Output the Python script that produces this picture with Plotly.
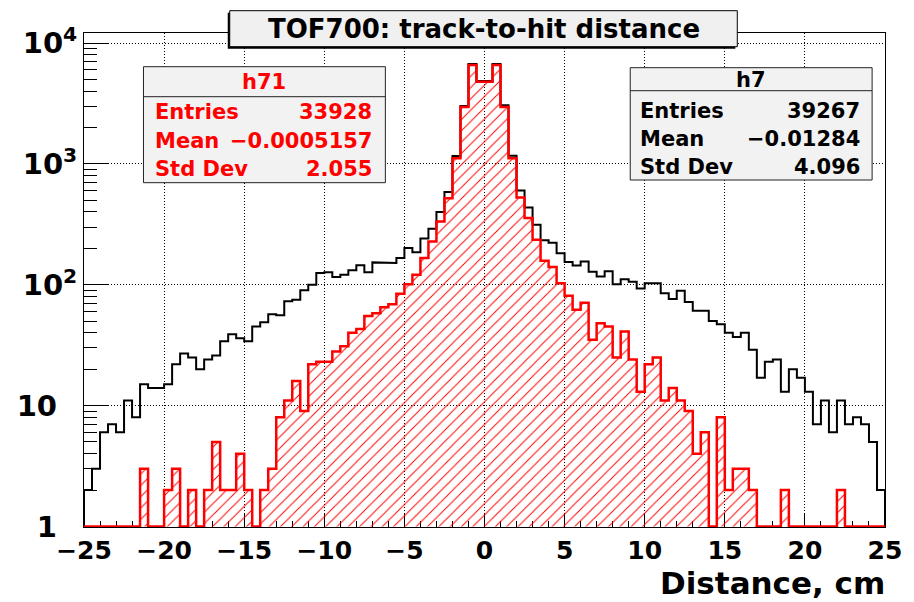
import numpy as np
import plotly.graph_objects as go

# ---------------- data ----------------
x_low, x_high, n_bins = -25.0, 25.0, 100

h7_counts = [2, 3, 6, 7, 6, 11, 8, 15, 14, 14,
             15, 22, 27, 25, 20, 24, 26, 34, 39, 36,
             34, 45, 49, 57, 56, 73, 75, 90, 100, 125,
             127, 116, 121, 132, 145, 127, 153, 151, 151, 166,
             201, 186, 241, 290, 400, 586, 1160, 3010, 6700, 4850,
             4850, 6700, 3050, 1165, 602, 435, 313, 233, 222, 182,
             154, 144, 156, 128, 117, 129, 101, 111, 106, 93,
             103, 103, 85, 76, 89, 72, 61, 61, 50, 47,
             40, 37, 40, 29, 17, 23, 24, 13, 20, 17,
             13, 7, 11, 6, 11, 7, 8, 7, 5, 2]

h71_counts = [0, 0, 0, 0, 0, 0, 0, 3, 0, 0,
              2, 3, 0, 2, 0, 2, 5, 2, 2, 4,
              2, 0, 2, 3, 8, 11, 16, 9, 22, 23,
              23, 28, 31, 40, 43, 55, 58, 65, 69, 84,
              101, 121, 166, 228, 334, 520, 1114, 2950, 6580, 4789,
              4789, 6580, 2950, 1114, 527, 356, 235, 158, 140, 103,
              81, 62, 71, 35, 48, 45, 25, 41, 24, 13,
              22, 25, 11, 14, 11, 9, 4, 6, 0, 8,
              2, 3, 3, 2, 0, 0, 0, 2, 0, 0,
              0, 0, 0, 0, 2, 0, 0, 0, 0, 0]

x_tick_values = [-25, -20, -15, -10, -5, 0, 5, 10, 15, 20, 25]
y_tick_values = [1, 10, 100, 1000, 10000]
y_tick_text = ["1", "10", "10<sup>2</sup>", "10<sup>3</sup>", "10<sup>4</sup>"]

title_text = "TOF700: track-to-hit distance"
x_title = "Distance, cm"

h71_name = "h71"
h71_stat_labels = ["Entries", "Mean", "Std Dev"]
h71_stat_values = ["33928", "\u22120.0005157", "2.055"]
h7_name = "h7"
h7_stat_labels = ["Entries", "Mean", "Std Dev"]
h7_stat_values = ["39267", "\u22120.01284", "4.096"]

# ---------------- helpers ----------------
edges = np.linspace(x_low, x_high, n_bins + 1)


def step_outline(counts, floor=1.0):
    c = np.maximum(np.asarray(counts, dtype=float), floor)
    xs = [edges[0]]
    ys = [floor]
    for i in range(n_bins):
        xs += [edges[i], edges[i + 1]]
        ys += [c[i], c[i]]
    xs.append(edges[-1])
    ys.append(floor)
    return xs, ys


W, H = 914, 602
L, R, T, B = 84, 892, 33, 527


def px(xp):
    return (xp - L) / (R - L)


def py(yp):
    return (B - yp) / (B - T)


FONT = "DejaVu Sans"
NB = "\u00a0"
# ROOT centres the log-axis labels; pad the short ones so they sit similarly
y_tick_pad = [2, 2, 0, 0, 0]
y_tick_shown = [t + NB * p for t, p in zip(y_tick_text, y_tick_pad)]

fig = go.Figure()

bx, by = step_outline(h7_counts)
fig.add_trace(go.Scatter(x=bx, y=by, mode="lines",
                         line=dict(color="black", width=2),
                         hoverinfo="skip", showlegend=False))

rx, ry = step_outline(h71_counts)
fig.add_trace(go.Scatter(x=rx, y=ry, mode="lines", fill="toself",
                         fillcolor="rgba(255,255,255,0)",
                         fillpattern=dict(shape="/", fgcolor="#ff0000",
                                          bgcolor="rgba(255,255,255,0)",
                                          size=8, solidity=0.12,
                                          fillmode="replace"),
                         line=dict(color="#ff0000", width=2.5),
                         hoverinfo="skip", showlegend=False))

fig.update_layout(
    width=W, height=H,
    margin=dict(l=L, r=W - R, t=T, b=H - B, pad=0),
    paper_bgcolor="white", plot_bgcolor="white",
    showlegend=False,
    font=dict(family=FONT, color="black"),
)

fig.update_xaxes(
    range=[x_low, x_high], tickmode="array", tickvals=x_tick_values,
    ticks="inside", ticklen=13, tickwidth=1, tickcolor="black",
    showline=True, linecolor="black", linewidth=1, mirror=True,
    showgrid=True, gridcolor="black", gridwidth=1, griddash="1px,2px",
    zeroline=False, layer="below traces",
    tickfont=dict(family=FONT, size=25, weight="bold", color="black"),
    ticklabelstandoff=1,
    minor=dict(dtick=1, ticks="inside", ticklen=6, tickcolor="black",
               tickwidth=1, showgrid=False),
)

fig.update_yaxes(
    type="log", range=[-0.005, 4.083], tickmode="array",
    tickvals=y_tick_values, ticktext=y_tick_shown,
    ticks="inside", ticklen=25, tickwidth=1, tickcolor="black",
    showline=True, linecolor="black", linewidth=1, mirror=True,
    showgrid=True, gridcolor="black", gridwidth=1, griddash="1px,2px",
    zeroline=False, layer="below traces",
    tickfont=dict(family=FONT, size=29, weight="bold", color="black"),
    minor=dict(dtick="D1", ticks="inside", ticklen=13, tickcolor="black",
               tickwidth=1, showgrid=False),
)

shapes = []
annotations = []

# title box with shadow
shapes.append(dict(type="rect", xref="paper", yref="paper",
                   x0=px(229), x1=px(741), y0=py(12.7), y1=py(48.7),
                   fillcolor="black", line=dict(width=0)))
shapes.append(dict(type="rect", xref="paper", yref="paper",
                   x0=px(231), x1=px(743), y0=py(10.7), y1=py(46.7),
                   fillcolor="#f0f0f0", line=dict(color="black", width=1)))
annotations.append(dict(text=title_text, xref="paper", yref="paper",
                        x=px(487), y=py(28.5), xanchor="center", yanchor="middle",
                        showarrow=False,
                        font=dict(family=FONT, size=26, weight="bold", color="black")))


def stat_box(x0, x1, y0, ydiv, y1, name, name_y, labels, values, rows_y,
             tx_left, tx_right, color):
    shapes.append(dict(type="rect", xref="paper", yref="paper",
                       x0=px(x0), x1=px(x1), y0=py(y1), y1=py(y0),
                       fillcolor="#f2f2f2", line=dict(color="#222222", width=1)))
    shapes.append(dict(type="line", xref="paper", yref="paper",
                       x0=px(x0), x1=px(x1), y0=py(ydiv), y1=py(ydiv),
                       line=dict(color="#222222", width=1)))
    f = dict(family=FONT, size=21, weight="bold", color=color)
    annotations.append(dict(text=name, xref="paper", yref="paper",
                            x=px((x0 + x1) / 2), y=py(name_y), xanchor="center",
                            yanchor="middle", showarrow=False, font=f))
    for lab, val, yy in zip(labels, values, rows_y):
        annotations.append(dict(text=lab, xref="paper", yref="paper",
                                x=px(tx_left), y=py(yy), xanchor="left",
                                yanchor="middle", showarrow=False, font=f))
        annotations.append(dict(text=val, xref="paper", yref="paper",
                                x=px(tx_right), y=py(yy), xanchor="right",
                                yanchor="middle", showarrow=False, font=f))


stat_box(144, 388, 66.7, 96.7, 182.7, h71_name, 82,
         h71_stat_labels, h71_stat_values, [112, 140.5, 169],
         154, 377, "#ff0000")
stat_box(635, 879, 67.7, 90.7, 180, h7_name, 80,
         h7_stat_labels, h7_stat_values, [110.5, 139, 167],
         643, 869, "black")

annotations.append(dict(text=x_title, xref="paper", yref="paper",
                        x=px(894), y=py(583), xanchor="right", yanchor="middle",
                        showarrow=False,
                        font=dict(family=FONT, size=31, weight="bold", color="black")))

fig.update_layout(shapes=shapes, annotations=annotations)

fig.write_html("out.html", config={"displayModeBar": False},
               post_script="document.body.style.margin='0';")
